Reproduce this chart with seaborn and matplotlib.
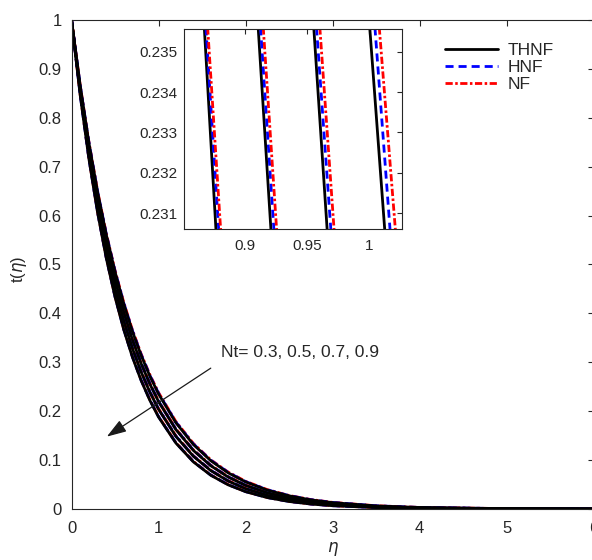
import numpy as np
import pandas as pd
import matplotlib
matplotlib.use('Agg')
import matplotlib.pyplot as plt
import seaborn as sns

# ---------------- data ----------------
eta = [0.0, 0.1, 0.2, 0.3, 0.4, 0.5, 0.6, 0.7, 0.8, 0.9, 1.0, 1.2, 1.4,
       1.6, 1.8, 2.0, 2.25, 2.5, 2.75, 3.0, 3.5, 4.0, 5.0, 6.0]
nt_values = [0.3, 0.5, 0.7, 0.9]
fluids = ['THNF', 'HNF', 'NF']

thnf_nt03 = [1.0, 0.8653, 0.7487, 0.6479, 0.5606, 0.4851, 0.4197, 0.3632, 0.3143, 0.2719, 0.2353,
             0.1762, 0.1319, 0.0988, 0.0739, 0.0554, 0.0386, 0.0269, 0.0187, 0.0130, 0.0063, 0.0031, 0.0007, 0.0]
thnf_nt05 = [1.0, 0.8593, 0.7385, 0.6346, 0.5454, 0.4686, 0.4027, 0.3461, 0.2974, 0.2556, 0.2196,
             0.1622, 0.1198, 0.0885, 0.0653, 0.0482, 0.0330, 0.0226, 0.0155, 0.0106, 0.0050, 0.0023, 0.0005, 0.0]
thnf_nt07 = [1.0, 0.8529, 0.7275, 0.6205, 0.5293, 0.4514, 0.3851, 0.3284, 0.2801, 0.2389, 0.2038,
             0.1483, 0.1079, 0.0785, 0.0571, 0.0415, 0.0279, 0.0188, 0.0126, 0.0085, 0.0038, 0.0017, 0.0004, 0.0]
thnf_nt09 = [1.0, 0.8461, 0.7159, 0.6058, 0.5126, 0.4337, 0.3669, 0.3105, 0.2627, 0.2223, 0.1881,
             0.1347, 0.0964, 0.0690, 0.0494, 0.0354, 0.0233, 0.0153, 0.0101, 0.0067, 0.0029, 0.0013, 0.0002, 0.0]

hnf_nt03 = [1.0, 0.8658, 0.7496, 0.6490, 0.5619, 0.4865, 0.4213, 0.3647, 0.3158, 0.2734, 0.2367,
            0.1775, 0.1330, 0.0997, 0.0748, 0.0560, 0.0391, 0.0273, 0.0190, 0.0133, 0.0065, 0.0031, 0.0007, 0.0]
hnf_nt05 = [1.0, 0.8597, 0.7391, 0.6354, 0.5462, 0.4696, 0.4037, 0.3471, 0.2984, 0.2565, 0.2205,
            0.1630, 0.1205, 0.0890, 0.0658, 0.0486, 0.0333, 0.0228, 0.0156, 0.0107, 0.0050, 0.0023, 0.0005, 0.0]
hnf_nt07 = [1.0, 0.8533, 0.7281, 0.6212, 0.5301, 0.4523, 0.3859, 0.3293, 0.2810, 0.2398, 0.2046,
            0.1489, 0.1084, 0.0790, 0.0575, 0.0419, 0.0281, 0.0189, 0.0127, 0.0086, 0.0039, 0.0017, 0.0004, 0.0]
hnf_nt09 = [1.0, 0.8464, 0.7164, 0.6064, 0.5132, 0.4344, 0.3677, 0.3112, 0.2634, 0.2229, 0.1887,
            0.1352, 0.0968, 0.0694, 0.0497, 0.0356, 0.0235, 0.0155, 0.0102, 0.0067, 0.0029, 0.0013, 0.0002, 0.0]

nf_nt03 = [1.0, 0.8663, 0.7505, 0.6501, 0.5632, 0.4879, 0.4227, 0.3662, 0.3172, 0.2748, 0.2381,
           0.1787, 0.1341, 0.1006, 0.0755, 0.0567, 0.0396, 0.0276, 0.0193, 0.0135, 0.0066, 0.0032, 0.0007, 0.0]
nf_nt05 = [1.0, 0.8600, 0.7397, 0.6362, 0.5471, 0.4706, 0.4047, 0.3481, 0.2993, 0.2575, 0.2214,
           0.1638, 0.1211, 0.0896, 0.0663, 0.0490, 0.0336, 0.0231, 0.0158, 0.0109, 0.0051, 0.0024, 0.0005, 0.0]
nf_nt07 = [1.0, 0.8536, 0.7286, 0.6219, 0.5309, 0.4532, 0.3868, 0.3302, 0.2818, 0.2406, 0.2053,
           0.1496, 0.1090, 0.0794, 0.0579, 0.0422, 0.0284, 0.0191, 0.0129, 0.0087, 0.0039, 0.0018, 0.0004, 0.0]
nf_nt09 = [1.0, 0.8467, 0.7169, 0.6069, 0.5139, 0.4351, 0.3684, 0.3119, 0.2641, 0.2236, 0.1893,
           0.1357, 0.0973, 0.0697, 0.0500, 0.0358, 0.0236, 0.0156, 0.0103, 0.0068, 0.0029, 0.0013, 0.0002, 0.0]

# inset (zoomed view): eta where each curve crosses the top / bottom of the inset window
inset_t = [0.2356, 0.2306]
thnf_inset_top = [1.0008, 0.9556, 0.9107, 0.8672]
thnf_inset_bot = [1.0129, 0.9664, 0.9210, 0.8766]
hnf_inset_top = [1.0050, 0.9578, 0.9126, 0.8685]
hnf_inset_bot = [1.0172, 0.9694, 0.9234, 0.8788]
nf_inset_top = [1.0085, 0.9605, 0.9148, 0.8699]
nf_inset_bot = [1.0215, 0.9720, 0.9256, 0.8804]

x_ticks = [0, 1, 2, 3, 4, 5, 6]
y_ticks = [0, 0.1, 0.2, 0.3, 0.4, 0.5, 0.6, 0.7, 0.8, 0.9, 1.0]
y_tick_labels = ['0', '0.1', '0.2', '0.3', '0.4', '0.5', '0.6', '0.7', '0.8', '0.9', '1']
inset_x_ticks = [0.9, 0.95, 1.0]
inset_x_labels = ['0.9', '0.95', '1']
inset_y_ticks = [0.231, 0.232, 0.233, 0.234, 0.235]
inset_y_labels = ['0.231', '0.232', '0.233', '0.234', '0.235']

# ---------------- tables ----------------
main_series = {
    'THNF': [thnf_nt03, thnf_nt05, thnf_nt07, thnf_nt09],
    'HNF': [hnf_nt03, hnf_nt05, hnf_nt07, hnf_nt09],
    'NF': [nf_nt03, nf_nt05, nf_nt07, nf_nt09],
}
rows = []
for fl in fluids:
    for nt, vals in zip(nt_values, main_series[fl]):
        for e, v in zip(eta, vals):
            rows.append((fl, nt, e, v))
df = pd.DataFrame(rows, columns=['fluid', 'Nt', 'eta', 't'])

inset_series = {
    'THNF': (thnf_inset_top, thnf_inset_bot),
    'HNF': (hnf_inset_top, hnf_inset_bot),
    'NF': (nf_inset_top, nf_inset_bot),
}
irows = []
for fl in fluids:
    tops, bots = inset_series[fl]
    for nt, et, eb in zip(nt_values, tops, bots):
        irows.append((fl, nt, et, inset_t[0]))
        irows.append((fl, nt, eb, inset_t[1]))
dfi = pd.DataFrame(irows, columns=['fluid', 'Nt', 'eta', 't'])

# ---------------- style ----------------
sns.set_theme(style='white')
plt.rcParams['font.family'] = ['Liberation Sans', 'DejaVu Sans']
plt.rcParams['mathtext.fontset'] = 'dejavusans'
txt = '#262626'

palette = {'THNF': '#000000', 'HNF': '#0000ff', 'NF': '#ff0000'}
dashes = {'THNF': '', 'HNF': (2.9, 1.8), 'NF': (2.6, 0.9, 0.9, 0.9)}
draw_order = ['NF', 'HNF', 'THNF']   # black drawn on top, as in the reference

fig = plt.figure(figsize=(5.92, 5.6), dpi=100)
ax = fig.add_axes([0.1208, 0.0911, 0.8820, 0.8732])

sns.lineplot(data=df, x='eta', y='t', hue='fluid', style='fluid', units='Nt',
             estimator=None, sort=False, hue_order=draw_order, style_order=draw_order,
             palette=palette, dashes=dashes, lw=2, ax=ax, legend=True)

ax.set_xlim(0, 6)
ax.set_ylim(0, 1)
ax.set_xticks(x_ticks)
ax.set_xticklabels([str(v) for v in x_ticks])
ax.set_yticks(y_ticks)
ax.set_yticklabels(y_tick_labels)
ax.tick_params(axis='both', direction='in', length=4, width=0.8, colors=txt,
               labelsize=12, top=True, right=True)
ax.tick_params(axis='x', pad=9)
ax.tick_params(axis='y', pad=7)
for s in ax.spines.values():
    s.set_color(txt)
    s.set_linewidth(0.8)

ax.set_xlabel(r'$\eta$', fontsize=12, color=txt)
ax.set_ylabel(r't($\eta$)', fontsize=12, color=txt)
ax.xaxis.set_label_coords(0.5, -0.064)
ax.yaxis.set_label_coords(-0.082, 0.49)

# legend (THNF, HNF, NF order)
handles, labels = ax.get_legend_handles_labels()
hmap = {l: h for h, l in zip(handles, labels) if l in fluids}
leg = ax.legend([hmap[f] for f in fluids], fluids, loc='upper left',
                bbox_to_anchor=(445 / 592, 1 - 43 / 560), bbox_transform=fig.transFigure,
                frameon=False, fontsize=12.5, handlelength=3.05, handletextpad=0.57,
                labelspacing=0.1, borderpad=0, borderaxespad=0)
for t in leg.get_texts():
    t.set_color(txt)

# annotation
ax.text(1.713, 0.319, 'Nt= 0.3, 0.5, 0.7, 0.9', fontsize=12.5, color=txt,
        ha='left', va='center')
ax.annotate('', xy=(0.406, 0.148), xytext=(1.60, 0.288),
            arrowprops=dict(arrowstyle='-|>,head_length=0.6,head_width=0.2',
                            color='#1a1a1a', lw=0.9, mutation_scale=20,
                            shrinkA=0, shrinkB=0))

# inset
axi = fig.add_axes([0.3108, 0.5911, 0.3677, 0.3571])
sns.lineplot(data=dfi, x='eta', y='t', hue='fluid', style='fluid', units='Nt',
             estimator=None, sort=False, hue_order=fluids, style_order=fluids,
             palette=palette, dashes=dashes, lw=2, ax=axi, legend=False)
axi.set_xlim(0.8508, 1.0266)
axi.set_ylim(0.23061, 0.23556)
axi.set_xticks(inset_x_ticks)
axi.set_xticklabels(inset_x_labels)
axi.set_yticks(inset_y_ticks)
axi.set_yticklabels(inset_y_labels)
axi.tick_params(axis='both', direction='in', length=3.5, width=0.8, colors=txt,
                labelsize=11, top=True, right=True)
axi.tick_params(axis='x', pad=7)
axi.tick_params(axis='y', pad=5)
axi.set_xlabel('')
axi.set_ylabel('')
for s in axi.spines.values():
    s.set_color(txt)
    s.set_linewidth(0.8)

fig.savefig('out.png', dpi=100)
